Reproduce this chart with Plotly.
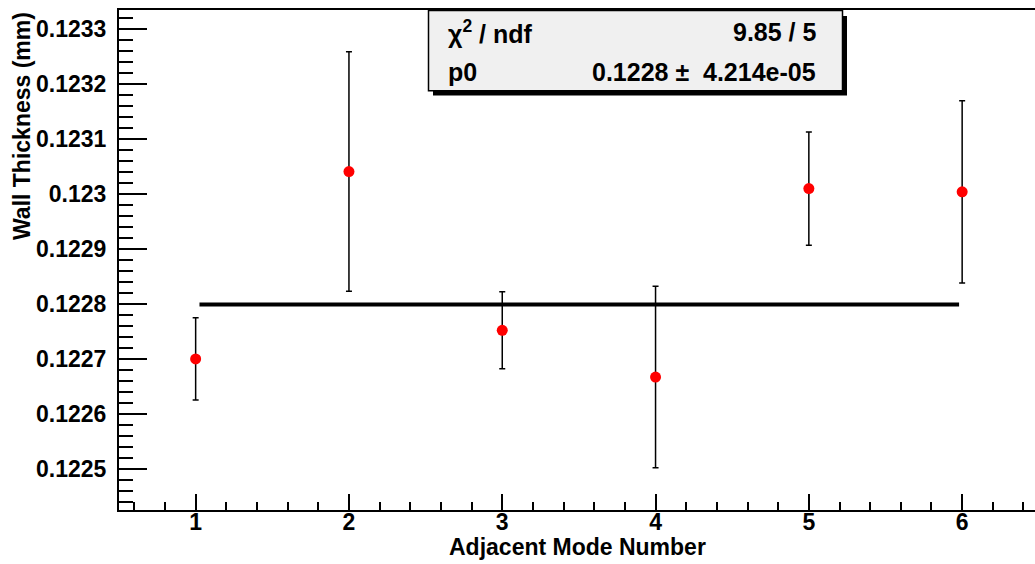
import plotly.graph_objects as go

# ---- data ----
mode_number = [1, 2, 3, 4, 5, 6]
wall_thickness = [0.122700, 0.123041, 0.122752, 0.122667, 0.123010, 0.123004]
wall_error = [0.000075, 0.000218, 0.000070, 0.000165, 0.000103, 0.000166]

fit_p0 = 0.122799
fit_x = [1.025, 5.98]
fit_y = [fit_p0, fit_p0]

y_tickvals = [0.1225, 0.1226, 0.1227, 0.1228, 0.1229, 0.1230, 0.1231, 0.1232, 0.1233]
y_ticktext = ["0.1225", "0.1226", "0.1227", "0.1228", "0.1229", "0.123", "0.1231", "0.1232", "0.1233"]
x_tickvals = [1, 2, 3, 4, 5, 6]
x_ticktext = ["1", "2", "3", "4", "5", "6"]

stats_labels = ["χ<sup>2</sup> / ndf", "p0"]
stats_values = ["9.85 / 5", "0.1228 ±\u00a0 4.214e-05"]

# ---- geometry ----
W, H = 1035, 564
L, R, T, B = 119, 0, 10, 54
pw, ph = W - L - R, H - T - B
px_per_unit = 153.3
x_range = [0.5, 0.5 + pw / px_per_unit]
y_range = [0.122425, 0.123335]

def px2paper_x(px):
    return (px - L) / pw

def py2paper_y(py):
    return (H - B - py) / ph

FONT = "Liberation Sans"

fig = go.Figure()

fig.add_trace(go.Scatter(
    x=fit_x, y=fit_y, mode="lines",
    line=dict(color="black", width=4),
    hoverinfo="skip", showlegend=False,
))

fig.add_trace(go.Scatter(
    x=mode_number, y=wall_thickness, mode="markers",
    marker=dict(color="#ff0000", size=11, symbol="circle"),
    error_y=dict(type="data", array=wall_error, visible=True,
                 color="black", thickness=1.5, width=3),
    showlegend=False,
))

# stats box: shadow then box
fig.add_shape(type="rect", xref="paper", yref="paper",
              x0=px2paper_x(433), x1=px2paper_x(847),
              y0=py2paper_y(95.5), y1=py2paper_y(16),
              fillcolor="black", line=dict(width=0), layer="above")
fig.add_shape(type="rect", xref="paper", yref="paper",
              x0=px2paper_x(428.5), x1=px2paper_x(842.5),
              y0=py2paper_y(90.7), y1=py2paper_y(10.5),
              fillcolor="#f0f0f0", line=dict(color="black", width=1.5), layer="above")

row_y = [32, 72]
for lab, val, ry in zip(stats_labels, stats_values, row_y):
    fig.add_annotation(xref="paper", yref="paper",
                       x=px2paper_x(446), y=py2paper_y(ry),
                       xanchor="left", yanchor="middle", showarrow=False,
                       text="<b>" + lab + "</b>",
                       font=dict(family=FONT, size=25, color="black"))
    fig.add_annotation(xref="paper", yref="paper",
                       x=px2paper_x(818), y=py2paper_y(ry),
                       xanchor="right", yanchor="middle", showarrow=False,
                       text="<b>" + val + "</b>",
                       font=dict(family=FONT, size=25, color="black"))

# axis titles
fig.add_annotation(xref="paper", yref="paper",
                   x=0.5, y=py2paper_y(547),
                   xanchor="center", yanchor="middle", showarrow=False,
                   text="<b>Adjacent Mode Number</b>",
                   font=dict(family=FONT, size=23, color="black"))
fig.add_annotation(xref="paper", yref="paper",
                   x=px2paper_x(22), y=1.0,
                   xanchor="center", yanchor="top", showarrow=False,
                   textangle=-90,
                   text="<b>Wall Thickness (mm)</b>",
                   font=dict(family=FONT, size=23, color="black"))

fig.update_layout(
    width=W, height=H,
    margin=dict(l=L, r=R, t=T, b=B, pad=0),
    paper_bgcolor="white", plot_bgcolor="white",
    font=dict(family=FONT, color="black"),
    showlegend=False,
    xaxis=dict(
        range=x_range, showgrid=False, zeroline=False,
        showline=True, linecolor="black", linewidth=2, mirror=True,
        ticks="inside", ticklen=16, tickwidth=1.5, tickcolor="black",
        tickmode="array", tickvals=x_tickvals, ticktext=x_ticktext,
        tickfont=dict(family=FONT, size=23, color="black", weight="bold"),
        ticklabelstandoff=-10,
        minor=dict(ticks="inside", ticklen=8, tickwidth=1.5, tickcolor="black",
                   tickmode="linear", tick0=0, dtick=0.2, showgrid=False),
    ),
    yaxis=dict(
        range=y_range, showgrid=False, zeroline=False,
        showline=True, linecolor="black", linewidth=2, mirror=False,
        ticks="inside", ticklen=28, tickwidth=1.5, tickcolor="black",
        tickmode="array", tickvals=y_tickvals, ticktext=y_ticktext,
        tickfont=dict(family=FONT, size=23, color="black", weight="bold"),
        ticklabelstandoff=6,
        minor=dict(ticks="inside", ticklen=14, tickwidth=1.5, tickcolor="black",
                   tickmode="linear", tick0=0.1225, dtick=0.00002, showgrid=False),
    ),
)

fig.write_html("out.html")
